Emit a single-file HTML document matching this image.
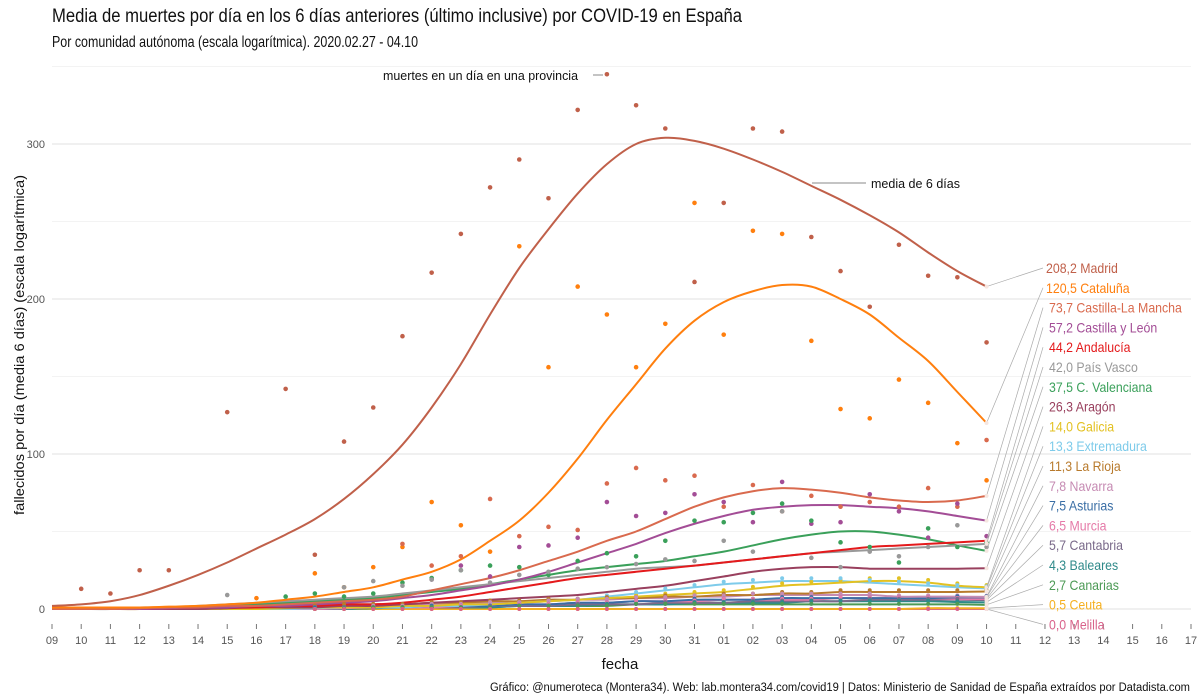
<!DOCTYPE html>
<html><head><meta charset="utf-8">
<style>
body{margin:0;background:#fff;}
svg{display:block;font-family:"Liberation Sans Narrow","Liberation Sans",sans-serif;}
</style></head><body>
<svg id="chart" width="1200" height="700">
<text x="52" y="22" font-size="19" fill="#111" textLength="690" lengthAdjust="spacingAndGlyphs">Media de muertes por día en los 6 días anteriores (último inclusive) por COVID-19 en España</text>
<text x="52" y="47" font-size="16" fill="#111" textLength="366" lengthAdjust="spacingAndGlyphs">Por comunidad autónoma (escala logarítmica). 2020.02.27 - 04.10</text>
<text x="24" y="345" font-size="14" fill="#111" transform="rotate(-90 24 345)" text-anchor="middle" textLength="340" lengthAdjust="spacingAndGlyphs">fallecidos por día (media 6 días) (escala logarítmica)</text>
<text x="620" y="669" font-size="15" fill="#111" text-anchor="middle">fecha</text>
<text x="1190" y="691" font-size="11.5" fill="#111" text-anchor="end" textLength="700" lengthAdjust="spacingAndGlyphs">Gráfico: @numeroteca (Montera34). Web: lab.montera34.com/covid19 | Datos: Ministerio de Sanidad de España extraídos por Datadista.com</text>
<g id="grid"></g><g id="xaxis"></g><g id="lines"></g><g id="points"></g><g id="labels"></g>
<line x1="593" y1="75" x2="603" y2="75" stroke="#888"/>
<text x="578" y="80" font-size="13" text-anchor="end" fill="#111" textLength="195" lengthAdjust="spacingAndGlyphs">muertes en un día en una provincia</text>
<line x1="812" y1="183" x2="866" y2="183" stroke="#888"/>
<text x="871" y="188" font-size="13" fill="#111" textLength="89" lengthAdjust="spacingAndGlyphs">media de 6 días</text>
</svg>
<script>
const xLabels=["09","10","11","12","13","14","15","16","17","18","19","20","21","22","23","24","25","26","27","28","29","30","31","01","02","03","04","05","06","07","08","09","10","11","12","13","14","15","16","17"];
const yTicks=[0,100,200,300];
const names=["Madrid","Cataluña","Castilla-La Mancha","Castilla y León","Andalucía","País Vasco","C. Valenciana","Aragón","Galicia","Extremadura","La Rioja","Navarra","Asturias","Murcia","Cantabria","Baleares","Canarias","Ceuta","Melilla"];
const lastValues=["208,2","120,5","73,7","57,2","44,2","42,0","37,5","26,3","14,0","13,3","11,3","7,8","7,5","6,5","5,7","4,3","2,7","0,5","0,0"];
const colors=["#c0604a","#ff7f0e","#d96a4e","#a34d96","#e41a1c","#999999","#3aa05a","#99405e","#e3c122","#7ecbea","#b87a2c","#c68bb3","#3a6ea5","#e57aa8","#7a6a8a","#2f8a8a","#4c9a55","#f5b020","#d9628a"];
const madrid=[2,3,5,9,15,22,30,39,48,58,71,87,106,130,158,190,220,245,268,287,300,304,302,297,290,282,273,264,254,243,230,218,208];
const cataluna=[1,1,1,1,1.5,2,3,4,6,8,11,14,19,24,32,44,57,75,97,122,145,168,186,198,205,209,208,200,190,175,160,140,120];
const clm=[0,0,0,0.5,1,1,2,2,3,4,5,6,8,12,16,20,25,31,37,44,50,58,66,72,76,78,77,75,72,70,69,70,73];
const cyl=[0,0,0,0,0.5,1,1,2,2,3,4,5,7,9,12,15,19,24,30,36,42,49,55,60,64,66,67,67,66,65,63,60,57];
const andalucia=[0,0,0,0,0.5,1,1,1,2,2,3,3,4,6,8,11,14,17,20,22,24,26,28,30,32,34,36,38,40,41,42,43,44];
const pvasco=[0,0,0,1,1,2,3,4,5,6,7,8,10,12,14,16,18,20,22,24,26,27,28,30,32,34,36,37,38,39,40,41,42];
const cval=[0,0,0,0.5,1,1,2,3,4,5,6,7,9,11,13,16,19,22,25,27,29,31,34,37,41,45,48,50,50,48,45,41,37.5];
const aragon=[0,0,0,0,0,0,0.5,1,1,1,2,2,3,4,5,6,7,8,9,11,13,15,18,21,24,26,27,27,26,26,26,26,26.3];
const galicia=[0,0,0,0,0,0,0,0,0.5,1,1,1,2,2,3,3,4,5,6,7,8,9,10,11,13,15,16,17,18,18,17,15,14];
const extremadura=[0,0,0,0,0,0,0,0,0,0.5,1,1,1,2,2,3,4,5,6,8,10,12,14,16,17,18,18,18,17,16,15,14,13.3];
const larioja=[0,0,0,0,1,1,1,2,2,2,3,3,3,4,4,5,5,6,6,7,7,8,8,9,9,10,10,11,11,11,11,11,11.3];
const navarra=[0,0,0,0,0,0,0,0.5,1,1,1,2,2,3,3,4,4,5,6,6,7,7,8,8,9,9,9,9,9,8,8,8,7.8];
const asturias=[0,0,0,0,0,0,0,0,0.5,1,1,1,1,2,2,2,3,3,4,4,5,5,6,6,6,7,7,7,7,7,7,7.5,7.5];
const murcia=[0,0,0,0,0,0,0,0,0,0,0.5,1,1,1,2,2,3,3,4,4,5,5,5,6,6,6,6,7,7,7,7,6.5,6.5];
const cantabria=[0,0,0,0,0,0,0,0,0,0,0.5,1,1,1,1,2,2,2,3,3,3,4,4,4,5,5,5,5,6,6,6,6,5.7];
const baleares=[0,0,0,0,0,0,0,0,0,0,0,0.5,1,1,1,1,2,2,2,3,3,3,4,4,4,4,5,5,5,5,5,4.5,4.3];
const canarias=[0,0,0,0,0,0,0,0,0,0,0.5,1,1,1,1,1,2,2,2,2,3,3,3,3,3,3,3,3,3,3,3,3,2.7];
const ceuta=[0,0,0,0,0,0,0,0,0,0,0,0,0,0,0,0,0,0,0,0,0,0,0,0,0,0,0,0,0,0,0.5,0.5,0.5];
const melilla=[0,0,0,0,0,0,0,0,0,0,0,0,0,0,0,0,0,0,0,0,0,0,0,0,0,0,0,0,0,0,0,0,0];
const series=[madrid,cataluna,clm,cyl,andalucia,pvasco,cval,aragon,galicia,extremadura,larioja,navarra,asturias,murcia,cantabria,baleares,canarias,ceuta,melilla];
const madridPts=[null,13,10,25,25,null,127,null,142,35,108,130,176,217,242,272,290,265,322,345,325,310,211,262,310,308,240,218,195,235,215,214,172];
const catalunaPts=[null,null,null,null,null,null,null,7,null,23,14,27,40,69,54,37,234,156,208,190,156,184,262,177,244,242,173,129,123,148,133,107,83];
const clmPts=[null,null,null,null,null,null,null,null,null,null,null,null,42,28,34,71,47,53,51,81,91,83,86,66,80,63,73,66,69,66,78,66,109];
const cylPts=[null,null,null,null,null,null,null,null,null,null,null,null,null,19,28,21,40,41,46,69,60,62,74,69,56,82,55,56,74,63,46,68,47];
const cvPts=[null,null,null,null,null,null,null,null,8,10,8,10,17,20,25,28,27,22,31,36,34,44,57,56,62,68,57,43,40,30,52,40,43];
const pvPts=[null,null,null,null,null,null,9,null,null,null,14,18,15,19,25,17,22,24,26,27,29,32,31,44,37,63,33,27,37,34,40,54,40];

const X0=52,DX=29.205,Y0=609,KY=1.55;
const x=i=>X0+i*DX, y=v=>Y0-v*KY;
const NS="http://www.w3.org/2000/svg";
function mk(tag,parent,attrs){const e=document.createElementNS(NS,tag);for(const k in attrs)e.setAttribute(k,attrs[k]);parent.appendChild(e);return e;}
const grid=document.getElementById('grid');
[50,150,250,350].forEach(v=>{const l=mk('line',grid,{x1:X0,x2:1191,y1:y(v),y2:y(v),stroke:'#f3f3f3','stroke-width':1});

});
yTicks.forEach(v=>{const l=mk('line',grid,{x1:X0,x2:1191,y1:y(v),y2:y(v),stroke:'#e6e6e6','stroke-width':1.2});


const t=mk('text',grid,{x:45,y:y(v)+4,'font-size':11,'text-anchor':'end',fill:'#555'});t.textContent=v;

});
const xa=document.getElementById('xaxis');
xLabels.forEach((s,i)=>{const tk=mk('line',xa,{x1:x(i),x2:x(i),y1:624,y2:629,stroke:'#777'});


const t=mk('text',xa,{x:x(i),y:644,'font-size':11,'text-anchor':'middle',fill:'#555'});t.textContent=s;

});
function smooth(pts){let d=`M${pts[0][0]},${pts[0][1]}`;for(let i=0;i<pts.length-1;i++){const p0=pts[i-1]||pts[i],p1=pts[i],p2=pts[i+1],p3=pts[i+2]||p2;
d+=` C${p1[0]+(p2[0]-p0[0])/6},${p1[1]+(p2[1]-p0[1])/6} ${p2[0]-(p3[0]-p1[0])/6},${p2[1]-(p3[1]-p1[1])/6} ${p2[0]},${p2[1]}`;}return d;}
const dots=document.getElementById('points');
const ptSets=[[madridPts,0],[catalunaPts,1],[clmPts,2],[cylPts,3],[cvPts,6],[pvPts,5]];
ptSets.forEach(([arr,ci])=>arr.forEach((v,i)=>{if(v==null)return;const c=mk('circle',dots,{cx:x(i),cy:y(v),r:2.3,fill:colors[ci]});

}));
series.forEach((s,k)=>{if(k<8)return;s.forEach((v,i)=>{if(i<9)return;const c=mk('circle',dots,{cx:x(i),cy:y(v*1.1),r:2,fill:colors[k]});

});});
const lines=document.getElementById('lines');
for(let k=series.length-1;k>=0;k--){const s=series[k];const p=mk('path',lines,{d:smooth(s.map((v,i)=>[x(i),y(v)])),fill:'none',stroke:colors[k],'stroke-width':2});

}
const lab=document.getElementById('labels');
names.forEach((n,k)=>{const ly=268+k*19.8;const s=series[k];const ex=x(s.length-1),ey=y(s[s.length-1]);
const l=mk('line',lab,{x1:ex,y1:ey,x2:1043,y2:ly,stroke:'#aaa','stroke-width':0.7});


mk('circle',lab,{cx:ex,cy:ey,r:2,fill:'#f5e6e0'});
const t=mk('text',lab,{x:k<2?1046:1049,y:ly+5,'font-size':14,fill:colors[k]});t.textContent=lastValues[k]+' '+n;


const w=t.getComputedTextLength();t.setAttribute('textLength',(w*0.88).toFixed(1));t.setAttribute('lengthAdjust','spacingAndGlyphs');});
</script>
</body></html>
